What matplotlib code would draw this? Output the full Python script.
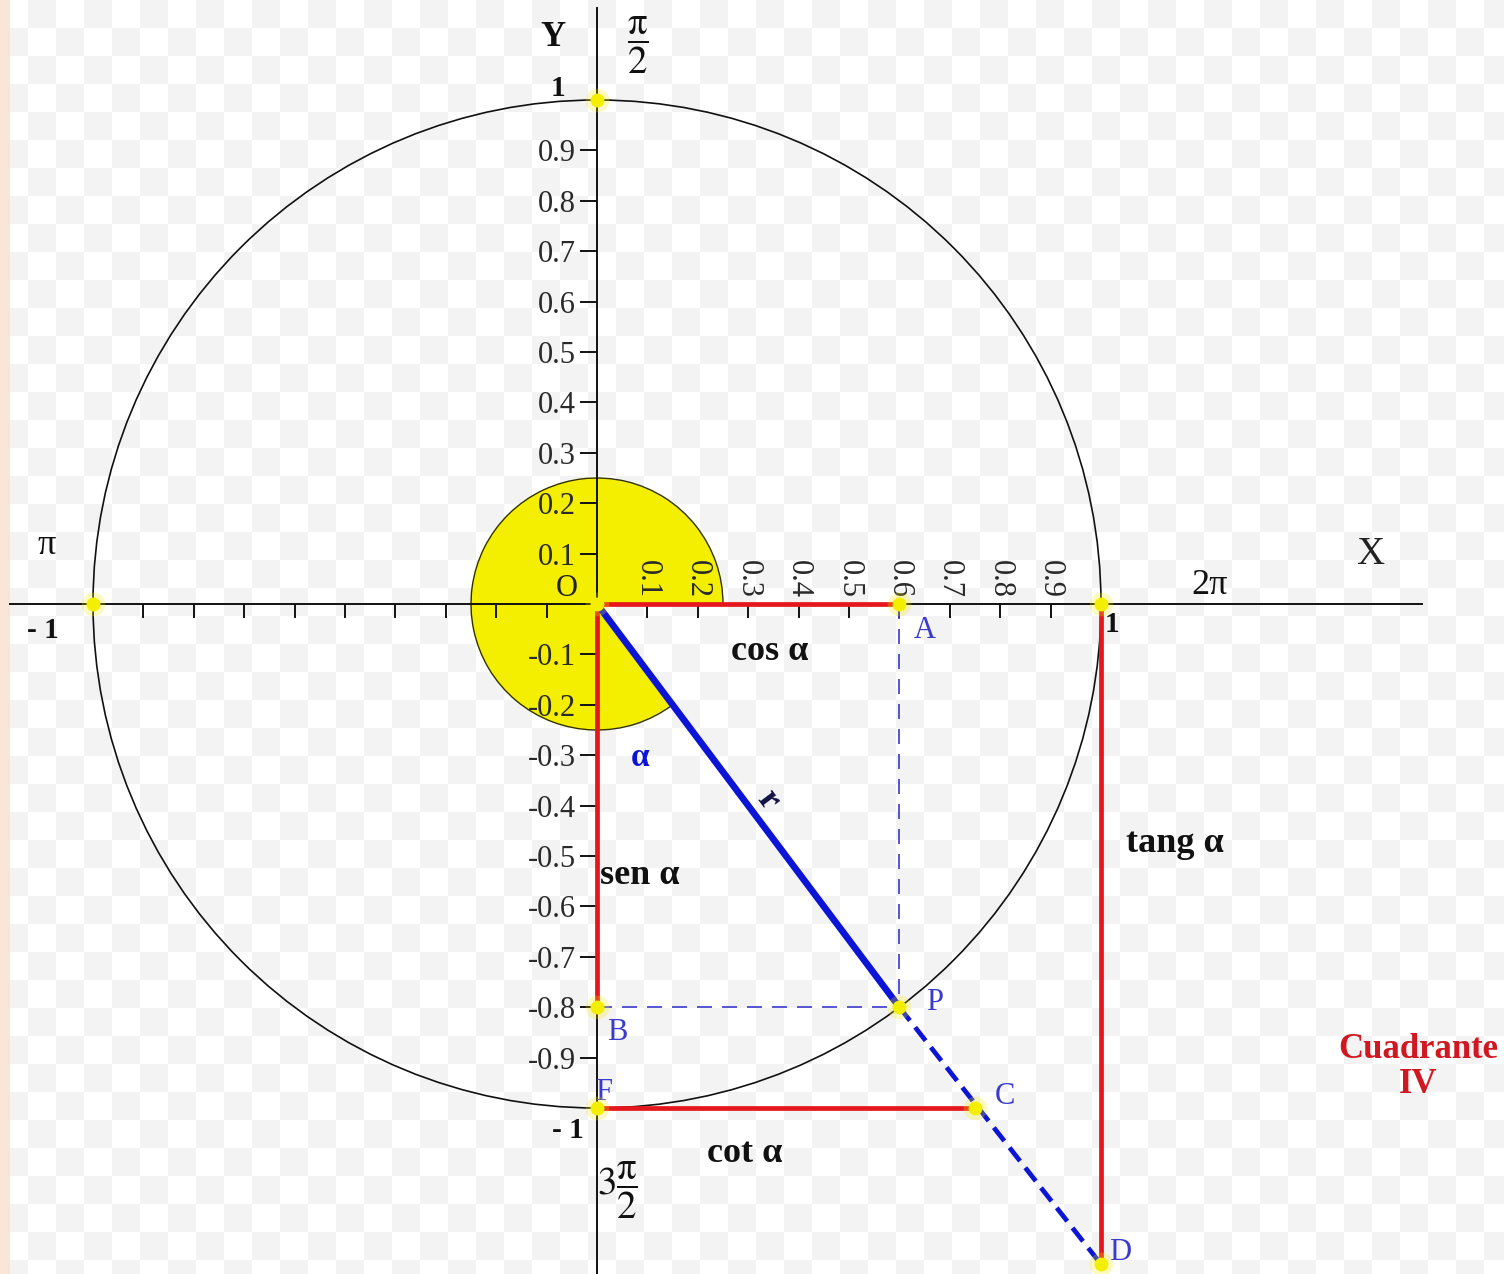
import numpy as np
import matplotlib
matplotlib.use("Agg")
import matplotlib.pyplot as plt
from matplotlib.patches import Wedge, Circle

plt.rcParams['font.family'] = ['Liberation Serif', 'DejaVu Serif']
plt.rcParams['mathtext.fontset'] = 'stix'

# ---- data ----
cos_a = 0.6          # point A / P x
sin_a = -0.8         # point B / P y
cot_x = 0.75         # point C x on y = -1
tan_y = -1.31        # point D y on x = 1
x_ticks = [-0.9, -0.8, -0.7, -0.6, -0.5, -0.4, -0.3, -0.2, -0.1,
           0.1, 0.2, 0.3, 0.4, 0.5, 0.6, 0.7, 0.8, 0.9]
x_tick_labels = [''] * 9 + ['0.1', '0.2', '0.3', '0.4', '0.5', '0.6', '0.7', '0.8', '0.9']
y_ticks = [-0.9, -0.8, -0.7, -0.6, -0.5, -0.4, -0.3, -0.2, -0.1,
           0.1, 0.2, 0.3, 0.4, 0.5, 0.6, 0.7, 0.8, 0.9]
y_tick_labels = ['-0.9', '-0.8', '-0.7', '-0.6', '-0.5', '-0.4', '-0.3', '-0.2', '-0.1',
                 '0.1', '0.2', '0.3', '0.4', '0.5', '0.6', '0.7', '0.8', '0.9']
wedge_r = 0.25

RED = '#e5161c'
BLUE = '#0c14d6'
LBLUE = '#3a3acc'
YEL = '#f4ee00'

W, H = 1504, 1274
fig = plt.figure(figsize=(W / 100, H / 100), dpi=100)

# checkerboard-like background (transparent image look)
yy, xx = np.mgrid[0:H, 0:W]
bg = np.where(((xx // 28) + (yy // 28)) % 2 == 0, 1.0, 0.955)
img = np.dstack([bg, bg, bg])
img[:, :10, :] = [0.985, 0.90, 0.84]
fig.figimage(img, xo=0, yo=0, zorder=-10)

ax = fig.add_axes([0, 0, 1, 1])
ax.patch.set_alpha(0)
unit = 504.0
ox, oy = 597.0, 604.0
ax.set_xlim(-ox / unit, (W - ox) / unit)
ax.set_ylim(-(H - oy) / unit, oy / unit)

# spines as coordinate axes
for s in ['top', 'right']:
    ax.spines[s].set_visible(False)
ax.spines['left'].set_position(('data', 0))
ax.spines['bottom'].set_position(('data', 0))
ax.spines['left'].set_bounds(-(H - oy) / unit, (oy - 8) / unit)
ax.spines['bottom'].set_bounds(-(ox - 10) / unit, (1422 - ox) / unit)
for s in ['left', 'bottom']:
    ax.spines[s].set_linewidth(1.4)
    ax.spines[s].set_color('#111111')

ax.set_xticks(x_ticks)
ax.set_xticklabels(x_tick_labels, rotation=270, fontsize=22, color='#2a2a2a')
for lab in ax.get_xticklabels():
    lab.set_verticalalignment('bottom')
ax.tick_params(axis='x', direction='out', length=10, width=1.4, pad=-14.5, color='#111111')

ax.set_yticks(y_ticks)
ax.set_yticklabels(y_tick_labels, fontsize=22, color='#2a2a2a')
ax.tick_params(axis='y', direction='out', length=12, width=1.4, pad=3, color='#111111')

# yellow angle wedge
alpha_deg = np.degrees(np.arctan2(sin_a, cos_a)) % 360
ax.add_patch(Wedge((0, 0), wedge_r, 0, alpha_deg, facecolor=YEL,
                   edgecolor='#333300', lw=1.0, zorder=1))

# unit circle
ax.add_patch(Circle((0, 0), 1.0, fill=False, edgecolor='#111111', lw=1.2, zorder=2))

# thin dashed projections
ax.plot([cos_a, cos_a], [0, sin_a], color=LBLUE, lw=1.2, dashes=(9, 6), zorder=2.2)
ax.plot([0, cos_a], [sin_a, sin_a], color=LBLUE, lw=1.2, dashes=(9, 6), zorder=2.2)

# red segments
ax.plot([0, cos_a], [0, 0], color=RED, lw=3.4, zorder=3, solid_capstyle='butt')
ax.plot([0, 0], [0, sin_a], color=RED, lw=3.4, zorder=3, solid_capstyle='butt')
ax.plot([0, cot_x], [-1, -1], color=RED, lw=3.4, zorder=3, solid_capstyle='butt')
ax.plot([1, 1], [0, tan_y], color=RED, lw=3.4, zorder=3, solid_capstyle='butt')

# radius and its extension
ax.plot([0, cos_a], [0, sin_a], color=BLUE, lw=4.8, zorder=4, solid_capstyle='butt')
ax.plot([cos_a, 1], [sin_a, tan_y], color=BLUE, lw=3.4, dashes=(3.6, 1.8), zorder=4)

# yellow points
pts_x = [0, -1, 1, 0, cos_a, cos_a, 0, 0, cot_x, 1]
pts_y = [1, 0, 0, 0, 0, sin_a, sin_a, -1, -1, tan_y]
ax.plot(pts_x, pts_y, 'o', ms=17, color=YEL, alpha=0.25, mec='none', zorder=5)
ax.plot(pts_x, pts_y, 'o', ms=10, color=YEL, mec='none', zorder=6)

def P(px, py):
    return (px - ox) / unit, (oy - py) / unit

bold = dict(fontweight='bold', color='#111111')
# axis names and angle marks
ax.text(*P(553, 37), 'Y', fontsize=25, ha='center', va='center', **bold)
ax.text(*P(1370, 555), 'X', fontsize=28, ha='center', va='center', color='#222222')
ax.text(*P(638, 45), r'$\dfrac{\mathrm{\pi}}{2}$', fontsize=28, ha='center', va='center', color='#111111')
ax.text(*P(47, 545), 'π', fontsize=26, ha='center', va='center', color='#111111')
ax.text(*P(1210, 585), '2π', fontsize=26, ha='center', va='center', color='#111111')
ax.text(*P(617, 1190), r'$3\dfrac{\mathrm{\pi}}{2}$', fontsize=28, ha='center', va='center', color='#111111')

# extra numeric labels
ax.text(*P(558, 88), '1', fontsize=21, ha='center', va='center', **bold)
ax.text(*P(568, 1130), '- 1', fontsize=21, ha='center', va='center', **bold)
ax.text(*P(43, 630), '- 1', fontsize=21, ha='center', va='center', **bold)
ax.text(*P(1112, 625), '1', fontsize=21, ha='center', va='center', **bold)
ax.text(*P(567, 588), 'O', fontsize=22, ha='center', va='center', color='#222222')

# function labels
ax.text(*P(770, 652), 'cos α', fontsize=26, ha='center', va='center', **bold)
ax.text(*P(640, 875), 'sen α', fontsize=26, ha='center', va='center', **bold)
ax.text(*P(1175, 843), 'tang α', fontsize=26, ha='center', va='center', **bold)
ax.text(*P(745, 1153), 'cot α', fontsize=26, ha='center', va='center', **bold)
ax.text(*P(640, 757), 'α', fontsize=24, ha='center', va='center', color=BLUE, fontweight='bold')
ax.text(*P(768, 800), 'r', fontsize=25, ha='center', va='center', rotation=-53,
        color='#111144', fontweight='bold')

# point labels
for name, (px, py) in {'A': (925, 630), 'P': (935, 1003), 'B': (617, 1032),
                       'C': (1005, 1097), 'D': (1120, 1252), 'F': (604, 1092)}.items():
    ax.text(*P(px, py), name, fontsize=22, ha='center', va='center', color=LBLUE)

ax.text(*P(1418, 1067), 'Cuadrante\nIV', fontsize=25, ha='center', va='center',
        color='#d01822', fontweight='bold', linespacing=1.1)

fig.savefig('out.png', dpi=100)
